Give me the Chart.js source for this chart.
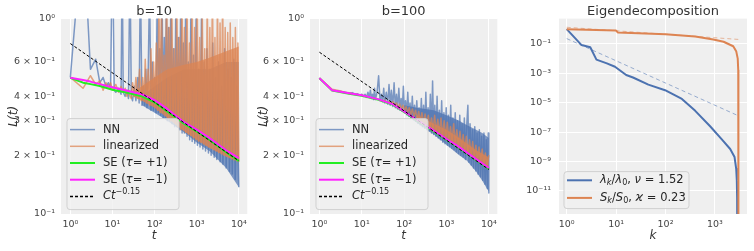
<!DOCTYPE html>
<html>
<head>
<meta charset="utf-8">
<script src="https://cdn.jsdelivr.net/npm/chart.js@4/dist/chart.umd.min.js"></script>
<style>
body { margin: 0; background: #fff; width: 754px; height: 251px; position: relative; overflow: hidden; }
canvas { position: absolute; top: 0; }
</style>
</head>
<body>
<canvas id="c10" width="252" height="251" style="left:0;width:252px;height:251px"></canvas>
<canvas id="c100" width="252" height="251" style="left:250px;width:252px;height:251px"></canvas>
<canvas id="ceig" width="254" height="251" style="left:500px;width:254px;height:251px"></canvas>
<script>
// ---- ticks ----
var xTicksT = [1, 10, 100, 1000, 10000];
var xTickLabelsT = ['10⁰', '10¹', '10²', '10³', '10⁴'];
var yTicksLoss = [0.1, 0.2, 0.3, 0.4, 0.6, 1];
var yTickLabelsLoss = ['10⁻¹', '2 × 10⁻¹', '3 × 10⁻¹', '4 × 10⁻¹', '6 × 10⁻¹', '10⁰'];
var xTicksK = [1, 10, 100, 1000];
var xTickLabelsK = ['10⁰', '10¹', '10²', '10³'];
var yTicksEig = [1e-11, 1e-9, 1e-7, 1e-5, 1e-3, 1e-1];
var yTickLabelsEig = ['10⁻¹¹', '10⁻⁹', '10⁻⁷', '10⁻⁵', '10⁻³', '10⁻¹'];

// ---- b=10 ----
var tNN10 = [1,2,3,4,5,6,7,8,9,10, 11,12,14,16,17,18,20,22,24,26, 28,30,33,36,40,43,46,50,54,58,
  62,66,70,76,82,88,94,100,108,116, 124,132,140,150,160,170,180,190,200,215,
  230,245,260,280,300,320,340,365,390,420, 450,480,510,550,590,630,680,730,780,840,
  900,970,1040,1120,1200,1300,1400,1500,1620,1750, 1900,2050,2200,2400,2600,2800,3000,3300,3600,3900,
  4200,4600,5000,5500,6000,6500,7000,7600,8200,9000, 10000];
var lossNN10 = [0.5,3,0.55,0.62,0.47,0.5,0.45,0.47,0.44,2.5, 0.43,0.42,0.44,0.41,2.0,0.42,0.4,0.43,0.39,2.0,
  0.4,0.38,0.45,0.38,0.5,0.37,1.8,0.36,0.45,0.36, 0.55,0.35,0.48,1.5,0.34,0.6,0.34,0.5,0.33,1.5,
  0.33,0.7,0.32,1.4,0.31,0.8,0.31,1.3,0.3,0.9, 0.3,1.5,0.29,0.7,0.28,1.2,0.28,0.8,0.27,1.4,
  0.26,0.75,0.26,1.3,0.25,0.6,0.24,1.2,0.235,0.65, 0.23,1.1,0.225,0.55,0.22,1.05,0.215,0.6,0.21,0.7,
  0.205,0.55,0.2,0.75,0.195,0.5,0.19,0.6,0.185,0.45, 0.18,0.7,0.172,0.55,0.165,0.5,0.16,0.62,0.15,0.45, 0.137];
var tLin10 = [1,2,3,4,5,6,7,8,9,10, 12,14,16,18,20,22,24,26,28,30, 33,36,40,44,48,52,56,60,65,70,
  76,82,88,95,102,110,118,127,136,146, 156,168,180,193,207,222,238,255,273,293,
  314,337,361,387,415,445,477,511,548,588, 630,675,724,776,832,892,956,1025,1100,1180,
  1260,1350,1450,1550,1660,1780,1910,2050,2200,2360, 2530,2710,2900,3110,3340,3580,3840,4120,4420,4740,
  5080,5450,5840,6260,6710,7200,7720,8280,8880,9500, 10000];
var lossLin10 = [0.5,0.44,0.51,0.46,0.48,0.43,0.47,0.44,0.47,0.43, 0.46,0.42,0.45,0.42,0.44,0.4,0.43,0.4,0.39,0.47,
  0.4,0.5,0.39,0.55,0.38,0.5,0.38,0.62,0.37,0.55, 0.36,0.7,0.36,0.6,0.35,0.75,0.34,1.2,0.33,1.3,
  0.33,0.65,0.32,1.5,0.31,0.9,0.3,1.4,0.3,0.7, 0.29,1.3,0.28,0.8,0.27,1.5,0.27,0.9,0.262,1.3,
  0.257,0.75,0.252,1.4,0.245,0.9,0.24,1.3,0.236,0.8, 0.232,1.2,0.228,0.7,0.224,1.3,0.22,0.9,0.217,1.5,
  0.213,0.8,0.21,1.3,0.206,0.95,0.203,1.4,0.2,0.9, 0.197,0.85,0.194,0.95,0.191,0.8,0.189,0.9,0.187,0.75, 0.185];
var tBandNN10 = [50, 100, 200, 500, 1000, 2000, 5000, 10000];
var nnLow10 = [0.36, 0.33, 0.3, 0.262, 0.232, 0.21, 0.172, 0.137];
var nnHigh10 = [0.4, 0.45, 0.5, 0.55, 0.55, 0.55, 0.6, 0.6];
var tBandLin10 = [30, 50, 100, 200, 500, 1000, 2000, 5000, 10000];
var linLow10 = [0.4, 0.38, 0.35, 0.31, 0.265, 0.24, 0.218, 0.197, 0.185];
var linHigh10 = [0.42, 0.45, 0.5, 0.55, 0.58, 0.6, 0.63, 0.68, 0.72];
var tSE10 = [1, 2, 3, 5, 10, 20, 50, 100, 200, 500, 1000, 2000, 5000, 10000];
var sePlus10 = [0.498, 0.47, 0.462, 0.452, 0.432, 0.42, 0.4, 0.373, 0.335, 0.29, 0.265, 0.24, 0.207, 0.187];
var seMinus10 = [0.498, 0.485, 0.476, 0.462, 0.445, 0.43, 0.41, 0.383, 0.345, 0.295, 0.27, 0.245, 0.212, 0.193];
var tPow = [1, 10000];
var powLaw10 = [0.745, 0.187];

// ---- b=100 ----
var tNN100 = [1,2,3,4,5,6,7,8,9,10, 11,12,13,14,15,16,17,18,19,20, 21,23,25,27,29,31,33,35,38,41,
  44,47,50,54,58,62,66,70,75,80, 85,90,96,102,108,115,122,130,138,147,
  156,166,176,187,199,212,225,240,255,271, 288,306,326,346,368,391,416,442,470,500,
  530,565,600,640,680,720,770,820,870,925, 985,1050,1110,1180,1260,1340,1420,1510,1610,1710,
  1820,1930,2060,2190,2330,2480,2640,2810,2990,3200, 3400,3600,3850,4100,4350,4650,4950,5270,5600,5970,
  6350,6760,7200,7660,8150,8680,9240,9700,10000];
var lossNN100 = [0.496,0.43,0.425,0.42,0.415,0.418,0.41,0.412,0.405,0.41, 0.4,0.41,0.395,0.42,0.395,0.43,0.39,0.41,0.385,0.44,
  0.385,0.42,0.51,0.38,0.41,0.375,0.44,0.37,0.42,0.365, 0.46,0.36,0.43,0.355,0.47,0.35,0.41,0.345,0.44,0.34,
  0.39,0.335,0.45,0.33,0.38,0.322,0.42,0.316,0.37,0.31, 0.4,0.304,0.36,0.298,0.38,0.291,0.35,0.286,0.39,0.28,
  0.36,0.275,0.42,0.27,0.35,0.265,0.41,0.26,0.48,0.255, 0.36,0.25,0.4,0.245,0.34,0.24,0.38,0.233,0.33,0.229,
  0.35,0.225,0.32,0.221,0.36,0.217,0.31,0.213,0.33,0.208, 0.3,0.204,0.32,0.2,0.29,0.196,0.31,0.19,0.28,0.36,
  0.184,0.29,0.178,0.27,0.172,0.28,0.166,0.26,0.16,0.27, 0.155,0.25,0.149,0.26,0.142,0.24,0.135,0.26,0.128];
var tLin100 = [1,2,3,4,5,7,10,13,16,20, 25,30,35,40,45,50,55,60,66,72, 79,86,94,102,111,121,132,144,157,171,
  186,203,221,241,263,287,313,341,372,405, 442,482,525,572,624,680,741,808,881,960,
  1046,1140,1243,1355,1477,1610,1755,1913,2085,2273, 2477,2700,2943,3208,3497,3812,4155,4529,4937,5381,
  5866,6394,6969,7596,8280,9025,10000];
var lossLin100 = [0.496,0.435,0.428,0.42,0.418,0.41,0.405,0.4,0.395,0.392, 0.386,0.38,0.382,0.372,0.378,0.366,0.375,0.36,0.37,0.352,
  0.365,0.345,0.36,0.337,0.355,0.33,0.35,0.322,0.345,0.315, 0.34,0.305,0.335,0.298,0.33,0.29,0.325,0.283,0.32,0.276,
  0.31,0.27,0.32,0.264,0.305,0.258,0.31,0.252,0.3,0.246, 0.295,0.24,0.28,0.235,0.29,0.23,0.27,0.224,0.265,0.218,
  0.255,0.212,0.25,0.206,0.24,0.2,0.235,0.195,0.225,0.19, 0.22,0.185,0.215,0.18,0.205,0.176,0.2];
var tBandNN100 = [100, 200, 500, 1000, 2000, 3000, 5000, 7000, 10000];
var nnLow100 = [0.33, 0.293, 0.255, 0.226, 0.2, 0.188, 0.165, 0.148, 0.13];
var nnHigh100 = [0.36, 0.35, 0.34, 0.32, 0.3, 0.285, 0.27, 0.26, 0.245];
var tBandLin100 = [200, 500, 1000, 2000, 5000, 10000];
var linLow100 = [0.3, 0.266, 0.242, 0.216, 0.19, 0.172];
var linHigh100 = [0.32, 0.29, 0.27, 0.245, 0.212, 0.195];
var tSE100 = [1, 2, 5, 10, 25, 55, 100, 212, 500, 1000, 1700, 5000, 10000];
var sePlus100 = [0.496, 0.428, 0.413, 0.403, 0.384, 0.362, 0.333, 0.299, 0.265, 0.24, 0.223, 0.189, 0.17];
var seMinus100 = [0.496, 0.43, 0.415, 0.405, 0.386, 0.364, 0.335, 0.301, 0.267, 0.242, 0.225, 0.191, 0.172];
var powLaw100 = [0.673, 0.169];

// ---- eigendecomposition ----
var kLambda = [1, 2, 3, 4, 6.5, 9.5, 16, 22, 45, 98, 215, 400, 800, 1380, 2040, 2500, 2700, 2780, 2820, 2830];
var lambdaRatio = [1, 0.083, 0.059, 0.0085, 0.0047, 0.0028, 7.6e-4, 5.2e-4, 1.7e-4, 7.1e-5, 1.8e-5, 2.8e-6,
  2.5e-7, 3.2e-8, 7.1e-9, 2.0e-9, 3.2e-10, 5.0e-11, 3.2e-12, 1e-14];
var kS = [1, 10, 10.8, 100, 400, 930, 1500, 2350, 2700, 2900, 2970, 2990, 3000];
var sRatio = [1, 0.81, 0.6, 0.45, 0.32, 0.2, 0.14, 0.069, 0.032, 0.01, 0.0016, 1e-5, 1e-14];
var kLambdaFit = [1, 2970];
var lambdaFit = [0.23, 1.3e-6];
var kSFit = [1, 3100];
var sFit = [1.35, 0.2];

Chart.defaults.font.family = "'DejaVu Sans', sans-serif";
Chart.defaults.color = '#444';

var BLUE = '#4c72b0', ORANGE = '#dd8452';
var BLUE_A = 'rgba(76,114,176,0.7)', ORANGE_A = 'rgba(221,132,82,0.72)';

function pts(xs, ys) {
	return xs.map(function (x, i) { return {x: x, y: ys[i]}; });
}

function line(label, xs, ys, color, width, order, extra) {
	var d = {
		label: label, data: pts(xs, ys), borderColor: color, borderWidth: width,
		pointRadius: 0, tension: 0, fill: false, order: order, borderJoinStyle: 'round'
	};
	for (var k in extra) d[k] = extra[k];
	return d;
}

// plot area background
var bgPlugin = {
	id: 'plotBg',
	beforeDraw: function (chart) {
		var a = chart.chartArea, ctx = chart.ctx;
		ctx.save();
		ctx.fillStyle = '#efefef';
		ctx.fillRect(a.left, a.top, a.right - a.left, a.bottom - a.top);
		ctx.restore();
	}
};

// *italic*, ^{sup}, _{sub}
function parseRich(str) {
	var out = [], italic = false, shift = 0, buf = '';
	function flush() { if (buf) out.push({t: buf, it: italic, sh: shift}); buf = ''; }
	for (var i = 0; i < str.length; i++) {
		var c = str[i];
		if (c === '*') { flush(); italic = !italic; }
		else if ((c === '^' || c === '_') && str[i + 1] === '{') { flush(); shift = c === '^' ? 1 : -1; i++; }
		else if (c === '}' && shift !== 0) { flush(); shift = 0; }
		else buf += c;
	}
	flush();
	return out;
}

function drawRich(ctx, str, x, y, size) {
	parseRich(str).forEach(function (s) {
		var fs = s.sh ? size * 0.7 : size;
		ctx.font = (s.it ? 'italic ' : '') + fs + "px 'DejaVu Sans'";
		var dy = s.sh > 0 ? -size * 0.38 : (s.sh < 0 ? size * 0.25 : 0);
		ctx.fillText(s.t, x, y + dy);
		x += ctx.measureText(s.t).width;
	});
}

// legend drawn inside the plot
var legendPlugin = {
	id: 'insetLegend',
	afterDraw: function (chart, args, o) {
		var ctx = chart.ctx, a = chart.chartArea;
		var x = a.left + o.dx, y = a.top + o.dy, w = o.w, h = o.h, r = 3;
		ctx.save();
		ctx.beginPath();
		ctx.moveTo(x + r, y);
		ctx.arcTo(x + w, y, x + w, y + h, r);
		ctx.arcTo(x + w, y + h, x, y + h, r);
		ctx.arcTo(x, y + h, x, y, r);
		ctx.arcTo(x, y, x + w, y, r);
		ctx.closePath();
		ctx.fillStyle = 'rgba(240,240,240,0.8)';
		ctx.fill();
		ctx.strokeStyle = 'rgba(205,205,205,0.9)';
		ctx.lineWidth = 1;
		ctx.stroke();
		ctx.textBaseline = 'middle';
		ctx.fillStyle = '#262626';
		o.items.forEach(function (it, i) {
			var ds = chart.data.datasets[it.ds];
			var cy = y + o.first + i * o.step;
			ctx.beginPath();
			ctx.setLineDash(ds.borderDash || []);
			ctx.strokeStyle = ds.borderColor;
			ctx.lineWidth = Math.max(ds.borderWidth, 1.5);
			ctx.moveTo(x + 3, cy);
			ctx.lineTo(x + 28, cy);
			ctx.stroke();
			ctx.setLineDash([]);
			drawRich(ctx, it.text, x + o.textDx, cy, o.size);
		});
		ctx.restore();
	}
};

function tickCb(labels) {
	return function (v, i) { return labels[i]; };
}

function logAxis(min, max, ticks, labels, isX, fitSize, pad, majors, title) {
	return {
		type: 'logarithmic', min: min, max: max,
		afterBuildTicks: function (s) { s.ticks = ticks.map(function (v) { return {value: v}; }); },
		afterFit: function (s) { if (isX) s.height = fitSize; else s.width = fitSize; },
		ticks: { callback: tickCb(labels), font: {size: 9.5}, padding: pad, autoSkip: false, maxRotation: 0, color: '#444' },
		grid: {
			drawTicks: false, lineWidth: 1,
			color: function (c) {
				if (!majors) return '#ffffff';
				return (c.tick && majors.indexOf(c.tick.value) >= 0) ? '#ffffff' : 'rgba(0,0,0,0)';
			}
		},
		border: { display: false },
		title: title ? {
			display: true, text: title, color: '#333',
			font: {size: 12, style: 'italic'},
			padding: isX ? {top: 0, bottom: 8} : {top: 7, bottom: 0}
		} : { display: false }
	};
}

function baseOptions(title, rightPad, yWidth, scales, legend) {
	return {
		responsive: false, animation: false, devicePixelRatio: 1, events: [],
		layout: { padding: {left: 0, right: rightPad, top: 0, bottom: 0} },
		scales: scales,
		plugins: {
			legend: { display: false }, tooltip: { enabled: false },
			title: {
				display: true, text: title, fullSize: false, color: '#333',
				font: {size: 13, weight: 'normal'}, padding: {top: 4, bottom: -1}
			},
			insetLegend: legend
		}
	};
}

function lossDatasets(d) {
	return [
		line('NN band low', d.tBandNN, d.nnLow, 'rgba(0,0,0,0)', 0, 10),
		line('NN band', d.tBandNN, d.nnHigh, 'rgba(0,0,0,0)', 0, 9, {fill: '-1', backgroundColor: BLUE_A}),
		line('NN', d.tNN, d.lossNN, BLUE_A, 1.5, 8),
		line('linearized band low', d.tBandLin, d.linLow, 'rgba(0,0,0,0)', 0, 7),
		line('linearized band', d.tBandLin, d.linHigh, 'rgba(0,0,0,0)', 0, 6, {fill: '-1', backgroundColor: ORANGE_A}),
		line('linearized', d.tLin, d.lossLin, ORANGE_A, 1.5, 5),
		line('SE (τ= +1)', d.tSE, d.sePlus, '#22ee22', 2, 2),
		line('SE (τ= −1)', d.tSE, d.seMinus, '#ff22ff', 2, 1),
		line('Ct^−0.15', tPow, d.pow, '#000000', 1, 0, {borderDash: [3, 2]})
	];
}

var lossLegendItems = [
	{ds: 2, text: 'NN'}, {ds: 5, text: 'linearized'}, {ds: 6, text: 'SE (*τ*= +1)'},
	{ds: 7, text: 'SE (*τ*= −1)'}, {ds: 8, text: '*Ct*^{−0.15}'}
];

function lossChart(id, title, rightPad, yWidth, d) {
	var scales = {
		x: logAxis(Math.pow(10, -0.2), Math.pow(10, 4.2), xTicksT, xTickLabelsT, true, 37, 5, null, 't'),
		y: logAxis(0.1, 1, yTicksLoss, yTickLabelsLoss, false, yWidth, 6, [0.1, 1], 'L(t)')
	};
	var legend = { dx: 6, dy: 100, w: 112, h: 91, first: 11, step: 16.7, textDx: 36, size: 11.5, items: lossLegendItems };
	return new Chart(document.getElementById(id), {
		type: 'line',
		data: { datasets: lossDatasets(d) },
		options: baseOptions(title, rightPad, yWidth, scales, legend),
		plugins: [bgPlugin, legendPlugin]
	});
}

lossChart('c10', 'b=10', 3, 61, {
	tNN: tNN10, lossNN: lossNN10, tLin: tLin10, lossLin: lossLin10,
	tBandNN: tBandNN10, nnLow: nnLow10, nnHigh: nnHigh10,
	tBandLin: tBandLin10, linLow: linLow10, linHigh: linHigh10,
	tSE: tSE10, sePlus: sePlus10, seMinus: seMinus10, pow: powLaw10
});

lossChart('c100', 'b=100', 4, 60, {
	tNN: tNN100, lossNN: lossNN100, tLin: tLin100, lossLin: lossLin100,
	tBandNN: tBandNN100, nnLow: nnLow100, nnHigh: nnHigh100,
	tBandLin: tBandLin100, linLow: linLow100, linHigh: linHigh100,
	tSE: tSE100, sePlus: sePlus100, seMinus: seMinus100, pow: powLaw100
});

// eigendecomposition panel
new Chart(document.getElementById('ceig'), {
	type: 'line',
	data: {
		datasets: [
			line('λ fit', kLambdaFit, lambdaFit, 'rgba(76,114,176,0.55)', 1, 3, {borderDash: [4, 3]}),
			line('S fit', kSFit, sFit, 'rgba(221,132,82,0.55)', 1, 2, {borderDash: [4, 3]}),
			line('λk/λ0, ν = 1.52', kLambda, lambdaRatio, BLUE, 2, 1),
			line('Sk/S0, ϰ = 0.23', kS, sRatio, ORANGE, 2, 0)
		]
	},
	options: baseOptions('Eigendecomposition', 7, 59, {
		x: logAxis(Math.pow(10, -0.156), Math.pow(10, 3.65), xTicksK, xTickLabelsK, true, 37, 5, null, 'k'),
		y: logAxis(Math.pow(10, -12.57), Math.pow(10, 0.72), yTicksEig, yTickLabelsEig, false, 59, 8, null, null)
	}, {
		dx: 5, dy: 153, w: 125, h: 37, first: 8.7, step: 17.6, textDx: 36, size: 11.5,
		items: [{ds: 2, text: '*λ*_{*k*}/*λ*_{0}, *ν* = 1.52'}, {ds: 3, text: '*S*_{*k*}/*S*_{0}, *ϰ* = 0.23'}]
	}),
	plugins: [bgPlugin, legendPlugin]
});
</script>
</body>
</html>
